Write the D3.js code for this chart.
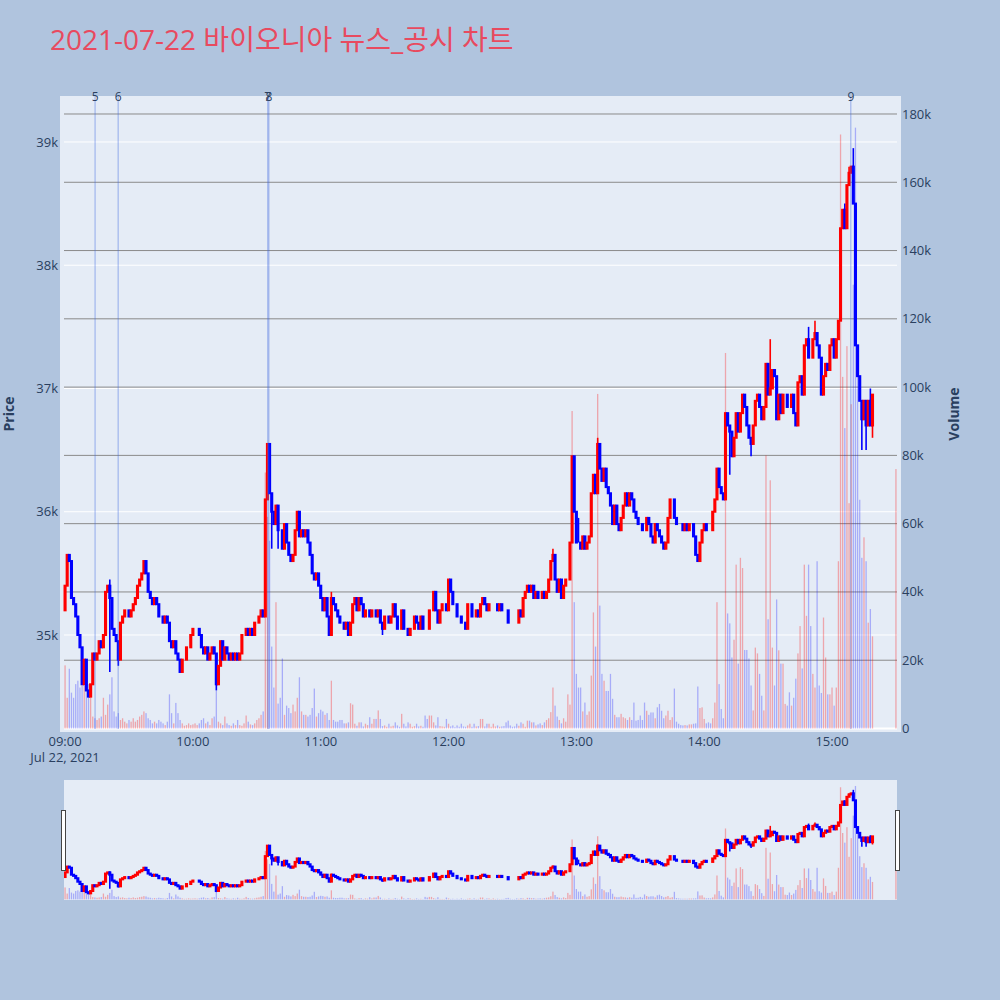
<!DOCTYPE html>
<html>
<head>
<meta charset="utf-8">
<script src="https://cdn.jsdelivr.net/npm/d3@7"></script>
<style>
  html, body { margin: 0; padding: 0; background: #b0c4de; }
  svg { display: block; font-family: "Open Sans", "Noto Sans CJK KR", sans-serif; }
</style>
</head>
<body>
<div id="chart"></div>
<script>
const title = "2021-07-22 바이오니아 뉴스_공시 차트";
const sessionStart = "2021-07-22 09:00";
const firstOpen = 35200;

// one close per minute from 09:00, open = previous close
const closes = [
  35400, 35650, 35600, 35300, 35250, 35150, 35000, 34900, 34600, 34800,
  34550, 34500, 34600, 34850, 34800, 34850, 34950, 34900, 35000, 35350,
  35400, 35300, 35050, 35000, 34950, 34800, 35100, 35150, 35200, 35200,
  35150, 35200, 35250, 35300, 35400, 35450, 35500, 35600, 35500, 35350,
  35300, 35250, 35300, 35250, 35150, 35150, 35100, 35150, 35100, 34950,
  34900, 34950, 34850, 34800, 34700, 34800, 34800, 34900, 34900, 35000,
  35050, 35050, 35050, 35000, 34900, 34850, 34900, 34800, 34850, 34900,
  34850, 34600, 34750, 34950, 34800, 34900, 34850, 34800, 34850, 34800,
  34850, 34800, 34850, 35000, 35000, 35050, 35000, 35050, 35000, 35100,
  35100, 35150, 35200, 35150, 36100, 36550, 36150, 36000, 35900, 36050,
  35850, 35850, 35700, 35900, 35750, 35650, 35600, 35650, 35850, 36000,
  35800, 35850, 35800, 35850, 35750, 35650, 35500, 35450, 35500, 35400,
  35300, 35200, 35300, 35150, 35000, 35300, 35250, 35200, 35150, 35100,
  35100, 35050, 35100, 35000, 35100, 35250, 35300, 35200, 35300, 35250,
  35150, 35200, 35200, 35150, 35200, 35200, 35150, 35200, 35100, 35050,
  35150, 35150, 35100, 35150, 35250, 35150, 35050, 35050, 35200, 35050,
  35050, 35000, 35050, 35050, 35150, 35100, 35050, 35150, 35050, 35050,
  35050, 35200, 35200, 35350, 35200, 35100, 35200, 35250, 35250, 35200,
  35450, 35350, 35250, 35250, 35150, 35150, 35100, 35100, 35050, 35250,
  35250, 35150, 35150, 35200, 35150, 35250, 35300, 35250, 35200, 35250,
  35250, 35250, 35250, 35200, 35250, 35200, 35200, 35200, 35100, 35100,
  35100, 35100, 35100, 35200, 35150, 35300, 35350, 35400, 35350, 35400,
  35300, 35350, 35300, 35300, 35350, 35300, 35350, 35450, 35600, 35650,
  35450, 35350, 35450, 35300, 35400, 35450, 35450, 35750, 36450, 36000,
  35750, 35750, 35700, 35800, 35700, 35750, 35800, 36150, 36300, 36150,
  36550, 36350, 36250, 36350, 36200, 36150, 36050, 35900, 36050, 35900,
  35850, 35950, 36050, 36150, 36050, 36150, 36100, 36000, 35950, 35900,
  35900, 35850, 35850, 35950, 35900, 35800, 35750, 35900, 35850, 35800,
  35750, 35700, 35750, 35950, 36100, 36100, 35950, 35900, 35900, 35900,
  35850, 35900, 35850, 35900, 35900, 35800, 35650, 35600, 35750, 35850,
  35900, 35850, 35850, 35850, 36000, 36100, 36350, 36200, 36150, 36100,
  36800, 36700, 36650, 36450, 36600, 36800, 36650, 36800, 36950, 36850,
  36700, 36600, 36550, 36700, 36900, 36950, 36850, 36750, 36850, 37200,
  36950, 37000, 37150, 37100, 36750, 36950, 36800, 36950, 36950, 36850,
  36850, 36950, 36800, 36700, 37050, 37100, 36950, 37350, 37400, 37250,
  37250, 37400, 37450, 37350, 37250, 36950, 37100, 37200, 37150, 37350,
  37400, 37250, 37400, 37550, 38300, 38450, 38300, 38650, 38750, 38800,
  38500, 37350, 37100, 36900, 36750, 36900, 36700, 36900, 36700, 36950
];

const volumes = [
  18500, 9000, 17500, 10500, 9000, 13000, 14000, 12000, 12500, 12500,
  11000, 13000, 9500, 3500, 3000, 2500, 3000, 3500, 9000, 4000,
  7000, 10000, 15000, 5000, 3500, 4500, 2500, 3000, 2000, 1500,
  2500, 2000, 3000, 2000, 2500, 3500, 4000, 5000, 4500, 3000,
  2500, 1500, 2000, 1500, 2500, 2000, 1500, 1000, 2000, 10000,
  4500, 1500, 7500, 4500, 2500, 1500, 800, 1000, 1500, 1000,
  1200, 1500, 1000, 1500, 2500, 3000, 1500, 2000, 1000, 3000,
  3500, 11000, 2000, 1500, 1000, 3500, 1500, 1000, 800, 1500,
  1000, 2500, 1000, 800, 1500, 3800, 2000, 1200, 1000, 1500,
  2500, 3000, 4000, 5000, 75000, 62000, 55000, 24000, 12000, 37000,
  7300, 9000, 20500, 4000, 6700, 6000, 4500, 7000, 5000, 9000,
  15000, 5000, 4000, 4000, 3500, 4000, 6000, 11700, 3500, 4500,
  5500, 5000, 4000, 4500, 2500, 14000, 2500, 2000, 2000, 2500,
  2500, 1500, 1500, 1800, 7400, 7000, 1400, 800, 1800, 1800,
  600, 1400, 1000, 3300, 1400, 2800, 2800, 5300, 2800, 700,
  900, 500, 1400, 600, 800, 1800, 900, 500, 4300, 1400,
  600, 1800, 1400, 500, 700, 1400, 600, 800, 500, 3800,
  2800, 3800, 3800, 1800, 900, 3300, 700, 600, 500, 2800,
  1400, 600, 900, 400, 900, 500, 1400, 600, 500, 900,
  1400, 500, 1400, 600, 700, 2800, 2800, 600, 1400, 1400,
  500, 1400, 600, 900, 500, 600, 700, 1800, 2300, 900,
  500, 600, 1400, 800, 1800, 1400, 500, 2300, 2300, 1800,
  1800, 900, 1200, 1500, 1000, 1800, 2500, 3000, 4800, 12000,
  6700, 3500, 2500, 1500, 3000, 2000, 10000, 7000, 93000, 37000,
  16000, 12000, 12000, 5000, 7600, 4000, 5000, 15500, 34000, 24000,
  98000, 36000, 16000, 14000, 11000, 11000, 16000, 8700, 4000, 3300,
  3300, 4300, 3300, 3000, 2500, 3300, 2500, 7600, 2300, 2500,
  3800, 2500, 7600, 5200, 4000, 4700, 4700, 3000, 6200, 7200,
  5200, 3000, 3800, 5200, 2500, 3300, 11700, 2000, 1400, 1000,
  900, 1000, 900, 1200, 1200, 1400, 1500, 12300, 6000, 6200,
  2800, 1500, 1800, 1500, 3000, 7600, 37000, 13000, 5700, 3000,
  110000, 33700, 30800, 20800, 26000, 48000, 19000, 50000, 47000, 23000,
  23000, 20500, 12600, 5300, 23700, 22000, 16000, 9600, 5300, 80000,
  32000, 72700, 23700, 12600, 37800, 22900, 19000, 19000, 7200, 6700,
  10600, 6700, 9000, 14600, 22000, 30000, 17600, 48000, 33000, 48000,
  30000, 16000, 12000, 49000, 12600, 10400, 32500, 20800, 10000, 10000,
  12000, 6700, 12000, 49000, 174000, 103000, 88000, 112000, 66000, 95000,
  130000, 176000, 110000, 67000, 50000, 56000, 49000, 31000, 35000, 27000
];

// wick extremes beyond the body: [minute index, price]
const wickHighs = [[21, 35450], [125, 35350], [229, 35700], [239, 36300], [241, 35950],
  [250, 36600], [331, 37400], [349, 37500], [352, 37550], [366, 38500],
  [368, 38800], [370, 38950], [378, 37000]];
const wickLows = [[21, 34700], [25, 34750], [71, 34550], [97, 35700], [100, 35700],
  [149, 35000], [312, 36300], [322, 36450], [374, 36500], [376, 36500], [379, 36600]];

// closing auction
const auctionTime = "2021-07-22 15:30";
const auctionPrice = 37300;
const auctionVolume = 76000;

const newsTimes = ["2021-07-22 09:14:05", "2021-07-22 09:24:55", "2021-07-22 10:35:10",
  "2021-07-22 10:35:40", "2021-07-22 15:08:50"];
const newsLabels = ["5", "6", "7", "8", "9"];

const priceTicks = [35000, 36000, 37000, 38000, 39000];
const volumeTicks = [0, 20000, 40000, 60000, 80000, 100000, 120000, 140000, 160000, 180000];
const hourTicks = ["09:00", "10:00", "11:00", "12:00", "13:00", "14:00", "15:00"];

const UP = "#ff0000";
const DOWN = "#0000ff";
const TXT = "#2a3f5f";

const parseMin = d3.timeParse("%Y-%m-%d %H:%M");
const parseSec = d3.timeParse("%Y-%m-%d %H:%M:%S");
const t0 = parseMin(sessionStart);

// build candles
const candles = [];
let prevClose = firstOpen;
let prevUp = true;
closes.forEach((c, i) => {
  const o = prevClose;
  const up = c > o ? true : c < o ? false : prevUp;
  candles.push({ t: d3.timeMinute.offset(t0, i), o, c, h: Math.max(o, c), l: Math.min(o, c), v: volumes[i], up });
  prevClose = c;
  prevUp = up;
});
wickHighs.forEach(([i, p]) => { candles[i].h = Math.max(candles[i].h, p); });
wickLows.forEach(([i, p]) => { candles[i].l = Math.min(candles[i].l, p); });
candles.push({ t: parseMin(auctionTime), o: auctionPrice, c: auctionPrice, h: auctionPrice, l: auctionPrice, v: auctionVolume, up: true });

const W = 1000, H = 1000;
const svg = d3.select("#chart").append("svg").attr("width", W).attr("height", H);

svg.append("rect").attr("width", W).attr("height", H).attr("fill", "#b0c4de");

svg.append("text")
  .attr("x", 50).attr("y", 50)
  .attr("font-size", 28)
  .attr("fill", "#e84a5f")
  .text(title);

const x = d3.scaleTime()
  .domain([d3.timeSecond.offset(t0, -30), d3.timeSecond.offset(parseMin(auctionTime), 30)])
  .range([64, 897]);

const y = d3.scaleLinear().domain([34213, 39373]).range([732, 96]);
const yv = d3.scaleLinear().domain([-1025, 185270]).range([732, 96]);

// main plot background
svg.append("rect").attr("x", 60).attr("y", 96).attr("width", 841).attr("height", 636).attr("fill", "#e5ecf6");

// price grid (white)
svg.append("g").selectAll("line").data(priceTicks).join("line")
  .attr("x1", 64).attr("x2", 897)
  .attr("y1", (d) => y(d)).attr("y2", (d) => y(d))
  .attr("stroke", "#ffffff").attr("stroke-width", 1);

// volume grid (gray)
svg.append("g").selectAll("line").data(volumeTicks.slice(1)).join("line")
  .attr("x1", 64).attr("x2", 897)
  .attr("y1", (d) => yv(d)).attr("y2", (d) => yv(d))
  .attr("stroke", "#8a8a8a").attr("stroke-width", 1);

svg.append("line")
  .attr("x1", 64).attr("x2", 897).attr("y1", yv(0)).attr("y2", yv(0))
  .attr("stroke", "#ffffff").attr("stroke-width", 2);

const defs = svg.append("defs");
defs.append("clipPath").attr("id", "clip-main")
  .append("rect").attr("x", 60).attr("y", 96).attr("width", 841).attr("height", 636);
defs.append("clipPath").attr("id", "clip-slider")
  .append("rect").attr("x", 64).attr("y", 780).attr("width", 833).attr("height", 120);

function drawSeries(g, yP, yV) {
  g.append("g").selectAll("rect").data(candles).join("rect")
    .attr("x", (d) => x(d.t) - 0.65)
    .attr("width", 1.3)
    .attr("y", (d) => yV(d.v))
    .attr("height", (d) => yV(0) - yV(d.v))
    .attr("fill", (d) => (d.up ? UP : DOWN))
    .attr("fill-opacity", (d) => (d.up ? 0.3 : 0.27));

  const c = g.append("g").selectAll("g").data(candles).join("g");
  c.append("line")
    .attr("x1", (d) => x(d.t)).attr("x2", (d) => x(d.t))
    .attr("y1", (d) => yP(d.h)).attr("y2", (d) => yP(d.l))
    .attr("stroke", (d) => (d.up ? UP : DOWN))
    .attr("stroke-width", 1.6);
  c.append("rect")
    .attr("x", (d) => x(d.t) - 0.55)
    .attr("width", 1.1)
    .attr("y", (d) => yP(Math.max(d.o, d.c)))
    .attr("height", (d) => Math.abs(yP(d.o) - yP(d.c)))
    .attr("fill", (d) => (d.up ? UP : DOWN))
    .attr("stroke", (d) => (d.up ? UP : DOWN))
    .attr("stroke-width", 2);
}

drawSeries(svg.append("g").attr("clip-path", "url(#clip-main)"), y, yv);

// news lines
const news = newsTimes.map((t, i) => ({ t: parseSec(t), label: newsLabels[i] }));
svg.append("g").selectAll("line").data(news).join("line")
  .attr("x1", (d) => x(d.t)).attr("x2", (d) => x(d.t))
  .attr("y1", 96).attr("y2", 729)
  .attr("stroke", "rgb(65,105,225)").attr("stroke-opacity", 0.5).attr("stroke-width", 1);
svg.append("g").selectAll("text").data(news).join("text")
  .attr("x", (d) => x(d.t)).attr("y", 101)
  .attr("text-anchor", "middle")
  .attr("font-size", 12)
  .attr("fill", TXT)
  .text((d) => d.label);

// axis labels
svg.append("g").selectAll("text").data(priceTicks).join("text")
  .attr("x", 58).attr("y", (d) => y(d))
  .attr("dy", "0.35em").attr("text-anchor", "end")
  .attr("font-size", 13).attr("fill", TXT)
  .text((d) => d / 1000 + "k");

svg.append("g").selectAll("text").data(volumeTicks).join("text")
  .attr("x", 902).attr("y", (d) => yv(d))
  .attr("dy", "0.35em").attr("text-anchor", "start")
  .attr("font-size", 13).attr("fill", TXT)
  .text((d) => (d === 0 ? "0" : d / 1000 + "k"));

svg.append("g").selectAll("text").data(hourTicks).join("text")
  .attr("x", (d) => x(parseMin("2021-07-22 " + d))).attr("y", 746)
  .attr("text-anchor", "middle")
  .attr("font-size", 13).attr("fill", TXT)
  .text((d) => d);

svg.append("text")
  .attr("x", x(t0)).attr("y", 762)
  .attr("text-anchor", "middle")
  .attr("font-size", 13).attr("fill", TXT)
  .text("Jul 22, 2021");

svg.append("text")
  .attr("transform", "translate(14,414) rotate(-90)")
  .attr("text-anchor", "middle")
  .attr("font-size", 14).attr("font-weight", "bold").attr("fill", TXT)
  .text("Price");

svg.append("text")
  .attr("transform", "translate(959,414) rotate(-90)")
  .attr("text-anchor", "middle")
  .attr("font-size", 14).attr("font-weight", "bold").attr("fill", TXT)
  .text("Volume");

// range slider
svg.append("rect").attr("x", 64).attr("y", 780).attr("width", 833).attr("height", 120).attr("fill", "#e5ecf6");
drawSeries(
  svg.append("g").attr("clip-path", "url(#clip-slider)"),
  y.copy().range([900, 780]),
  yv.copy().range([900, 780])
);
[61.5, 895.5].forEach((hx) => {
  svg.append("rect")
    .attr("x", hx).attr("y", 810.5).attr("width", 4).attr("height", 60)
    .attr("fill", "#ffffff").attr("stroke", "#444").attr("stroke-width", 1);
});
</script>
</body>
</html>
